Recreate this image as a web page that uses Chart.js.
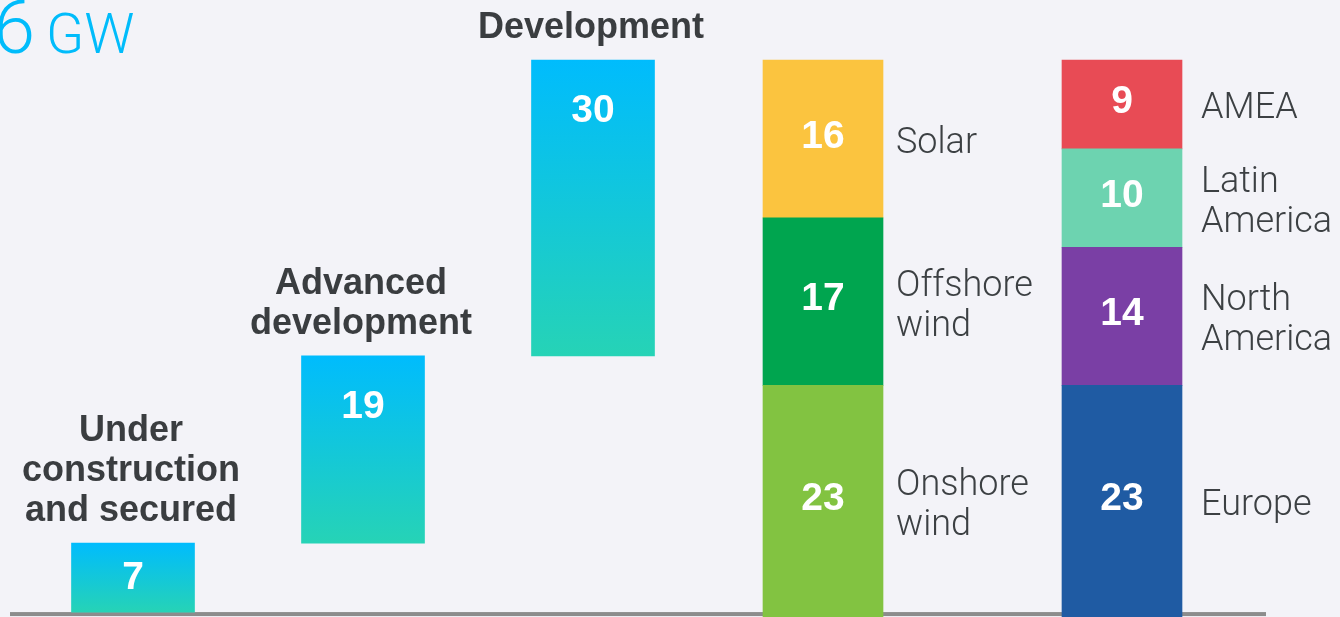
<!DOCTYPE html>
<html>
<head>
<meta charset="utf-8">
<script src="https://cdn.jsdelivr.net/npm/chart.js@4/dist/chart.umd.min.js"></script>
<style>
html,body{margin:0;padding:0;background:#f3f3f8;}
#wrap{width:1340px;height:617px;}
</style>
</head>
<body>
<div id="wrap"><canvas id="pipeline" width="1340" height="617"></canvas></div>
<script>
// pipeline stages (waterfall)
const stages=[['Under','construction','and secured'],['Advanced','development'],['Development']]
const stageValues=[7,19,30]

// split by technology
const techNames=[['Onshore','wind'],['Offshore','wind'],['Solar']]
const techValues=[23,17,16]
const techColors=['#82c341','#00a54f','#fbc43f']

// split by region
const regionNames=[['Europe'],['North','America'],['Latin','America'],['AMEA']]
const regionValues=[23,14,10,9]
const regionColors=['#1f5ba3','#7a3fa5','#6dd3b0','#e84b55']

const totalLabel='56'
const unitLabel='GW'

// bar slots along the x axis (layout only)
const slots=[0,1,2,3,4.3]


let cum=0
let waterfall=stageValues.map((v,i)=>{
let lo=cum
cum+=v
return {x:slots[i],y:[lo,cum]}
})


function gradient(c){
let chart=c.chart
let y=chart.scales.y
if(!y||!c.raw||!chart.chartArea)return '#10c8e0'
let top=y.getPixelForValue(c.raw.y[1])
let bot=y.getPixelForValue(c.raw.y[0])
if(!isFinite(top)||!isFinite(bot))return '#10c8e0'
let g=chart.ctx.createLinearGradient(0,top,0,bot)
g.addColorStop(0,'#00bcfd')
g.addColorStop(1,'#26d3b6')
return g
}


let datasets=[{
label:'stages',
data:waterfall,
stack:'wf',
barThickness:123,
backgroundColor:gradient
}]

techValues.forEach((v,i)=>{
let d={
label:techNames[i].join(' '),
data:[{x:slots[3],y:v}],
stack:'tech',
barThickness:120,
backgroundColor:techColors[i],
names:techNames[i],
gap:13
}
if(i==0)d.base=-0.5
datasets.push(d)
})

regionValues.forEach((v,i)=>{
let d={
label:regionNames[i].join(' '),
data:[{x:slots[4],y:v}],
stack:'region',
barThickness:120,
backgroundColor:regionColors[i],
names:regionNames[i],
gap:19
}
if(i==0)d.base=-0.5
datasets.push(d)
})


const baseline={
id:'baseline',
beforeDatasetsDraw(chart){
let ctx=chart.ctx
let y0=chart.scales.y.getPixelForValue(0)
ctx.save()
ctx.fillStyle='#8c8c8c'
ctx.fillRect(10,y0,1256,4)
ctx.restore()
}
}


const labels={
id:'labels',
afterDatasetsDraw(chart){
let ctx=chart.ctx
ctx.save()
ctx.textBaseline='middle'

chart.data.datasets.forEach((ds,di)=>{
let meta=chart.getDatasetMeta(di)
meta.data.forEach((el,i)=>{
let top=el.y
let bot=el.base
let mid=(top+bot)/2

if(di==0){
let v=stageValues[i]
ctx.fillStyle='#ffffff'
ctx.font='bold 39px "Liberation Sans", Arial, sans-serif'
ctx.textAlign='center'
ctx.fillText(v,el.x,Math.min(mid,top+50)+1)

let lines=stages[i]
ctx.fillStyle='#3a3d40'
ctx.font='bold 36px "Liberation Sans", Arial, sans-serif'
lines.forEach((t,k)=>{
ctx.fillText(t,el.x-2,top-32-(lines.length-1-k)*40)
})
}
else{
let v=ds.data[i].y
ctx.fillStyle='#ffffff'
ctx.font='bold 39px "Liberation Sans", Arial, sans-serif'
ctx.textAlign='center'
ctx.fillText(v,el.x,mid-2)

let lines=ds.names
ctx.fillStyle='#3c4043'
ctx.font='300 36px Roboto, sans-serif'
ctx.textAlign='left'
lines.forEach((t,k)=>{
ctx.fillText(t,el.x+el.width/2+ds.gap,mid+5+(k-(lines.length-1)/2)*40)
})
}
})
})

ctx.fillStyle='#00bcfb'
ctx.textBaseline='alphabetic'
ctx.textAlign='right'
ctx.font='300 75px Roboto, sans-serif'
ctx.fillText(totalLabel,35,53)
ctx.textAlign='left'
ctx.font='300 56px Roboto, sans-serif'
ctx.fillText(unitLabel,46,53)

ctx.restore()
}
}


new Chart(
document.getElementById('pipeline'),
{
type:'bar',
data:{datasets:datasets},
options:{
responsive:false,
animation:false,
layout:{padding:0},
datasets:{bar:{grouped:false,borderWidth:0}},
plugins:{legend:{display:false},tooltip:{enabled:false}},
scales:{
x:{
type:'linear',
display:false,
offset:false,
min:-133/230,
max:1207/230
},
y:{
display:false,
stacked:true,
min:-0.5,
max:62.1
}
}
},
plugins:[baseline,labels]
})
</script>
</body>
</html>
